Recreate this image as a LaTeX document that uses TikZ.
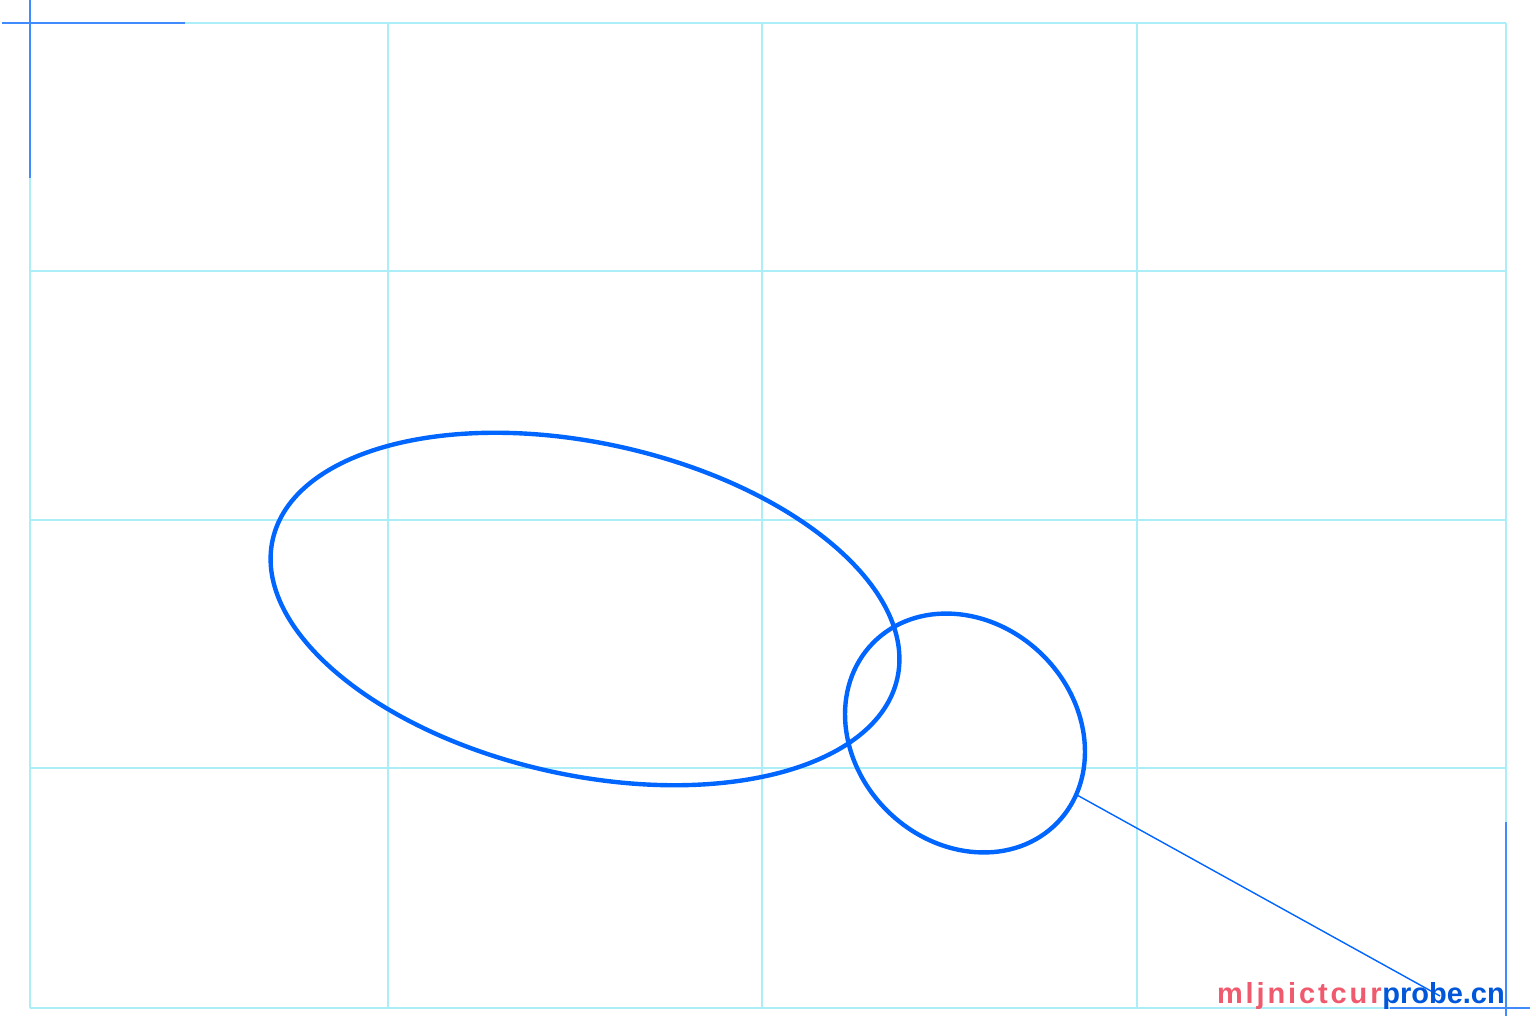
\documentclass[tikz,border=0pt]{standalone}
\usepackage{fontspec}
\setsansfont{Liberation Sans}
\usepackage{xcolor}
\usepackage{tikz}
\usetikzlibrary{shapes.geometric,positioning,calc}

\definecolor{penblue}{RGB}{0,102,255}
\definecolor{gridcyan}{RGB}{172,238,248}
\definecolor{markred}{RGB}{240,90,110}

\begin{document}
\begin{tikzpicture}[
    x=0.02cm, y=-0.02cm,
    gridline/.style={draw=gridcyan, line width=0.6pt},
    cornermark/.style={draw=penblue!75, line width=1.6pt},
    blob/.style={ellipse, draw=penblue, line width=2.5pt, inner sep=0pt},
    leader/.style={draw=penblue, line width=0.8pt},
    wmtext/.style={inner sep=0pt, font=\sffamily\bfseries\fontsize{16.5}{16.5}\selectfont}
]
\useasboundingbox[fill=white] (0,0) rectangle (1536,1024);

% Grid
\draw[gridline] (30,23) -- (1506,23);
\draw[gridline] (30,271) -- (1506,271);
\draw[gridline] (30,520) -- (1506,520);
\draw[gridline] (30,768) -- (1506,768);
\draw[gridline] (30,1008) -- (1506,1008);
\draw[gridline] (30,23) -- (30,1008);
\draw[gridline] (388,23) -- (388,1008);
\draw[gridline] (762,23) -- (762,1008);
\draw[gridline] (1137,23) -- (1137,1008);
\draw[gridline] (1506,23) -- (1506,1008);

% Corner marks
\draw[cornermark] (30,0) -- (30,178);
\draw[cornermark] (2,23) -- (185,23);
\draw[cornermark] (1506,822) -- (1506,1016);
\draw[cornermark] (1390,1008) -- (1530,1008);

% Ellipses
\node[blob, rotate=-12.5, minimum width=12.8cm, minimum height=6.64cm] (big) at (585,609) {};
\node[blob, rotate=-44.2, minimum width=5.15cm, minimum height=4.4cm] (small) at (965,733) {};

% Leader line
\coordinate (tip) at (1440,996);
\draw[leader] (small) -- (tip);

% Watermark
\node[wmtext, text=markred, anchor=base east] (wmred) at (1382,1003) {\addfontfeatures{LetterSpace=10}mljnictcur};
\node[wmtext, text=penblue!85!black, anchor=base west] (wmblue) at (wmred.base east) {probe.cn};

\end{tikzpicture}
\end{document}
